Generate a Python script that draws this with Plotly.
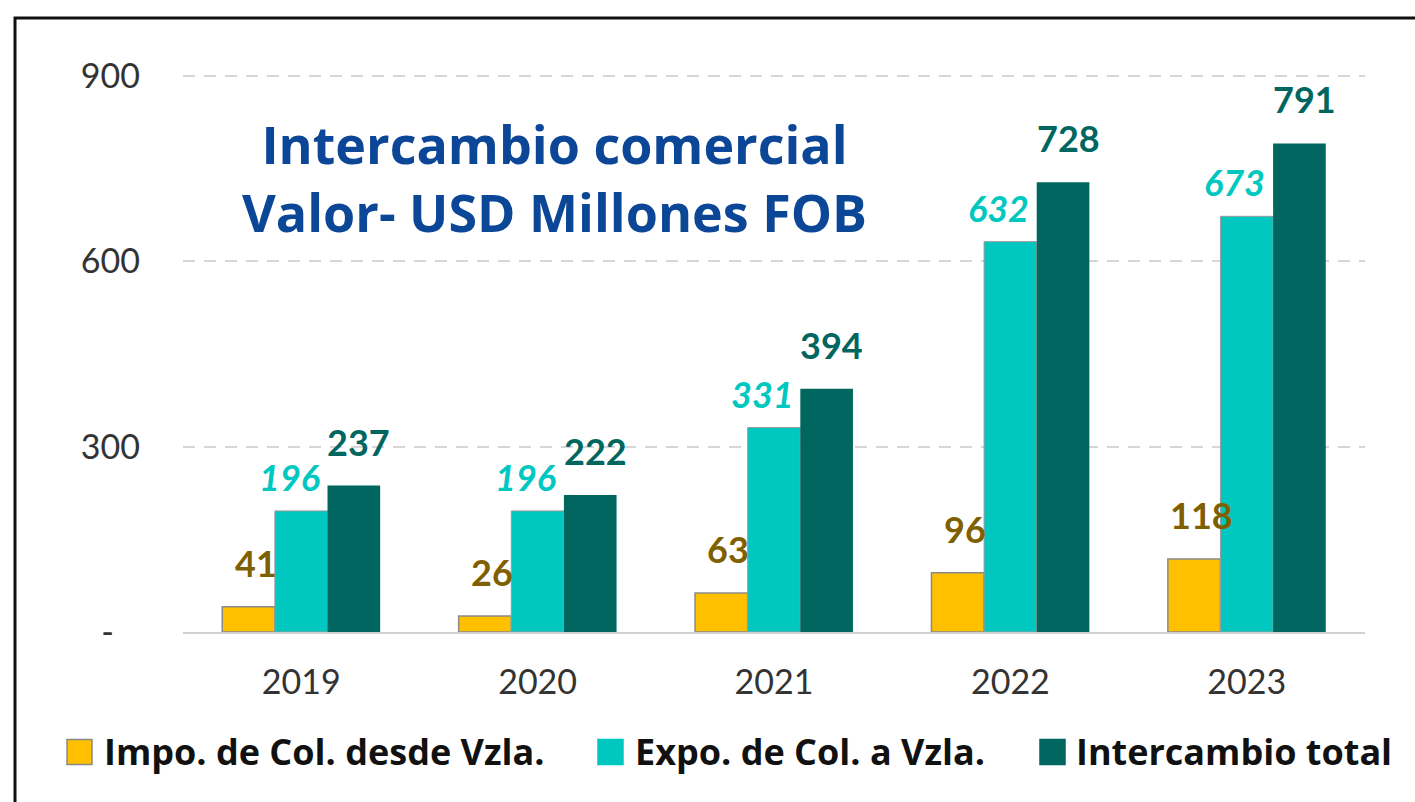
import plotly.graph_objects as go

# ---- data ----
years = ["2019", "2020", "2021", "2022", "2023"]
impo = [41, 26, 63, 96, 118]
expo = [196, 196, 331, 632, 673]
total = [237, 222, 394, 728, 791]
series_names = ["Impo. de Col. desde Vzla.", "Expo. de Col. a Vzla.", "Intercambio total"]
y_tickvals = [0, 300, 600, 900]
y_ticktext = ["-\u00a0\u00a0\u00a0", "300", "600", "900"]
title_lines = ["Intercambio comercial", "Valor- USD Millones FOB"]

# ---- style ----
W, H = 1415, 802
Y_MAX = 905
L, R, B = 183, 1365, 632            # plot area in pixels
T = B - Y_MAX * (632 - 76) / 900     # so that 900 sits at pixel 76
bar_colors = ["#FFC000", "#00C8C1", "#01665F"]
label_colors = ["#7F6000", "#00C8C1", "#01665F"]
label_styles = [("bold", "normal"), ("bold", "italic"), ("bold", "normal")]
bar_lines = [("#8a8a8a", 1.5), ("#9a9a9a", 1), ("#01665F", 0)]
bar_w = 52.7
label_xshift = [bar_w * -1 + 7, -12, bar_w + 5]
label_yshift = [20, 10, 20]
FONT = "Lato, 'Open Sans', sans-serif"


def px(x):
    return (x - L) / (R - L)


def py(y):
    return (B - y) / (B - T)


fig = go.Figure()
all_vals = [impo, expo, total]
for i, (name, vals) in enumerate(zip(series_names, all_vals)):
    fig.add_trace(go.Bar(
        x=years, y=vals, name=name,
        marker=dict(color=bar_colors[i],
                    line=dict(color=bar_lines[i][0], width=bar_lines[i][1])),
        showlegend=False,
    ))

annotations = []
for i, vals in enumerate(all_vals):
    for k, v in enumerate(vals):
        annotations.append(dict(
            x=k, y=v, xref="x", yref="y", text=str(v), showarrow=False,
            xanchor="center", yanchor="bottom",
            xshift=label_xshift[i], yshift=label_yshift[i],
            font=dict(family=FONT, size=36, color=label_colors[i],
                      weight=label_styles[i][0], style=label_styles[i][1]),
        ))

# title
annotations.append(dict(
    x=px(554), y=py(177), xref="paper", yref="paper",
    text="<br>".join(title_lines), showarrow=False,
    xanchor="center", yanchor="middle", align="center",
    font=dict(family="'Open Sans', sans-serif", size=52, color="#0B4697", weight="bold"),
))

# custom legend
leg_sq_x = [67, 598, 1040]
leg_text_x = [102, 633, 1074]
leg_y = 752
sq = 25
shapes = []
for i, name in enumerate(series_names):
    shapes.append(dict(
        type="rect", xref="paper", yref="paper",
        x0=px(leg_sq_x[i]), x1=px(leg_sq_x[i] + sq),
        y0=py(leg_y + sq / 2), y1=py(leg_y - sq / 2),
        fillcolor=bar_colors[i],
        line=dict(color="#8a8a8a" if i == 0 else bar_colors[i], width=1.5),
    ))
    annotations.append(dict(
        x=px(leg_text_x[i]), y=py(leg_y), xref="paper", yref="paper",
        text=name, showarrow=False, xanchor="left", yanchor="middle",
        font=dict(family="'Open Sans', sans-serif", size=36, color="#111111", weight="bold"),
    ))

# outer black frame
shapes.append(dict(
    type="rect", xref="paper", yref="paper",
    x0=px(15), x1=px(1425), y0=py(815), y1=py(18),
    line=dict(color="#111111", width=3), fillcolor="rgba(0,0,0,0)", layer="above",
))

fig.update_layout(
    width=W, height=H,
    margin=dict(l=L, r=W - R, t=T, b=H - B, pad=0),
    paper_bgcolor="white", plot_bgcolor="white",
    barmode="group", bargap=0.332, bargroupgap=0,
    annotations=annotations, shapes=shapes,
    font=dict(family=FONT),
)
fig.update_xaxes(
    type="category", range=[-0.5, 4.5],
    showline=True, linecolor="#d0d0d0", linewidth=2,
    showgrid=False, ticks="",
    tickfont=dict(family=FONT, size=34, color="#333333"),
    ticklabelstandoff=19,
)
fig.update_yaxes(
    range=[0, Y_MAX], tickvals=y_tickvals, ticktext=y_ticktext,
    showgrid=True, gridcolor="#d6d6d6", gridwidth=2, griddash="12px,9px",
    zeroline=False, showline=False, ticks="",
    tickfont=dict(family=FONT, size=34, color="#333333"),
    ticklabelstandoff=42,
)

fig.write_html(
    "out.html",
    config={"displayModeBar": False},
    post_script="document.body.style.margin='0';document.body.style.overflow='hidden';",
)
